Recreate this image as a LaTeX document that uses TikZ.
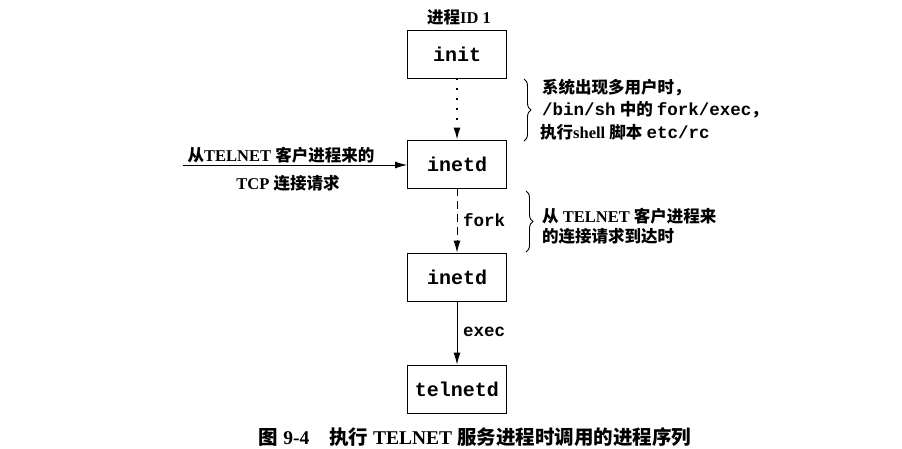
\documentclass[tikz,border=0pt]{standalone}
\usepackage{fontspec}
\setmainfont{Liberation Serif}
\setmonofont{Liberation Mono}
\newfontfamily\cjk{Noto Sans CJK SC}
\usetikzlibrary{arrows.meta,decorations.pathreplacing}
\newcommand{\cj}[1]{{\cjk\bfseries #1}}
\newcommand{\mo}[1]{{\fontsize{17.5}{19}\selectfont\ttfamily\bfseries #1}}
\begin{document}
\begin{tikzpicture}[x=1pt,y=-1pt,
  proc/.style={draw,line width=0.9pt,minimum width=99pt,minimum height=48pt,inner sep=0pt,font=\fontsize{20}{22}\selectfont\ttfamily\bfseries},
  arr/.style={line width=0.9pt,-{Latex[length=12pt,width=7pt]}},
  lbl/.style={font=\fontsize{16.5}{18}\selectfont,inner sep=0pt},
  brc/.style={line width=0.9pt,decorate,decoration={brace,amplitude=7pt}}]
\useasboundingbox (0,0) rectangle (902,449);
\node[proc] (init) at (457,54) {init};
\node[proc] (inetd1) at (457,164) {inetd};
\node[proc] (inetd2) at (457,277) {inetd};
\node[proc] (telnetd) at (457,389) {telnetd};
\node[lbl] (pid) at (459,17) {\cj{进程}\textbf{ID 1}};
\draw[arr,dash pattern=on 2pt off 8pt,line width=1.4pt] (init) -- (inetd1);
\draw[arr,dash pattern=on 8pt off 5pt] (inetd1) -- (inetd2);
\draw[arr] (inetd2) -- (telnetd);
\node[lbl,anchor=west] (fork) at (463,220) {\mo{fork}};
\node[lbl,anchor=west] (exec) at (463,332) {\mo{exec}};
\coordinate (src) at (183,165);
\draw[arr] (src) -- (inetd1.west |- src);
\node[lbl] (in1) at (281,155) {\cj{从}\textbf{TELNET} \cj{客户进程来的}};
\node[lbl] (in2) at (288,183) {\textbf{TCP} \cj{连接请求}};
\coordinate (b1t) at (524,79);
\coordinate (b1b) at (524,141);
\draw[brc] (b1t) -- (b1b);
\node[lbl,anchor=west] (t1) at (542,88) {\cj{系统出现多用户时，}};
\node[lbl,anchor=west] (t2) at (542,110) {\mo{/bin/sh} \cj{中的} \mo{fork/exec}\cj{，}};
\node[lbl,anchor=west] (t3) at (540,132) {\cj{执行}\textbf{shell} \cj{脚本} \mo{etc/rc}};
\coordinate (b2t) at (526,191);
\coordinate (b2b) at (526,252);
\draw[brc] (b2t) -- (b2b);
\node[lbl,anchor=west] (u1) at (542,216) {\cj{从} \textbf{TELNET} \cj{客户进程来}};
\node[lbl,anchor=west] (u2) at (542,236) {\cj{的连接请求到达时}};
\node[lbl,font=\fontsize{19.5}{21}\selectfont] (cap) at (475,437) {\cj{图} \textbf{9-4}\hspace{20pt}\cj{执行} \textbf{TELNET} \cj{服务进程时调用的进程序列}};
\end{tikzpicture}
\end{document}
